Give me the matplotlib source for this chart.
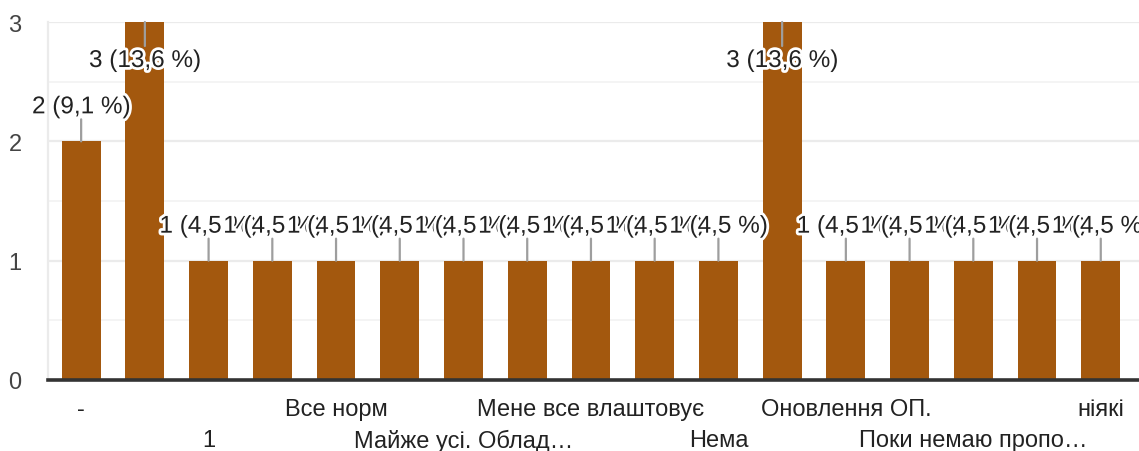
import matplotlib
matplotlib.use("Agg")
import matplotlib.pyplot as plt
import matplotlib.patheffects as pe
from matplotlib.ticker import MultipleLocator

plt.rcParams['font.family'] = ['Liberation Sans', 'DejaVu Sans']

# Categories (only every other label is displayed on the axis in the reference)
categories = ["-", "", "1", "", "Все норм", "", "Майже усі. Облад…", "",
              "Мене все влаштовує", "", "Нема", "", "Оновлення ОП.", "",
              "Поки немаю пропо…", "", "ніякі"]
values = [2, 3, 1, 1, 1, 1, 1, 1, 1, 1, 1, 3, 1, 1, 1, 1, 1]
yticks = [0, 1, 2, 3]

BAR_COLOR = "#A3580E"
W, H, DPI = 1139, 452, 100

fig = plt.figure(figsize=(W / DPI, H / DPI), dpi=DPI)
ax = fig.add_axes([48 / W, 71 / H, 1 - 48 / W, (381 - 23) / H])

x = list(range(len(values)))
ax.bar(x, values, width=0.61, color=BAR_COLOR, zorder=2)

ax.set_xlim(-0.52, len(values) - 1 + 0.6)
ax.set_ylim(0, max(yticks))
ax.set_yticks(yticks)
ax.yaxis.set_minor_locator(MultipleLocator(0.5))
ax.set_yticklabels([str(t) for t in yticks], fontsize=17, color="#444444")
ax.tick_params(axis='y', which='both', length=0, pad=19)
ax.set_xticks([])
ax.yaxis.grid(True, which='major', color="#ebebeb", lw=1.6, zorder=0)
ax.yaxis.grid(True, which='minor', color="#f4f4f4", lw=1.4, zorder=0)
ax.set_axisbelow(True)
for s in ["top", "right"]:
    ax.spines[s].set_visible(False)
ax.spines["left"].set_color("#ebebeb")
ax.spines["left"].set_linewidth(1.6)
ax.spines["bottom"].set_color("#333333")
ax.spines["bottom"].set_linewidth(2.6)
ax.spines["bottom"].set_zorder(5)

total = sum(values)
ymax = max(yticks)
stroke = [pe.withStroke(linewidth=4, foreground="white")]
for i, v in enumerate(values):
    label = f"{v} ({v / total * 100:.1f} %)".replace(".", ",")
    if v >= ymax:
        line_off, text_off = -24, -39
    else:
        line_off, text_off = 22, 34
    ax.annotate("", xy=(i, v), xytext=(0, line_off), textcoords="offset pixels",
                arrowprops=dict(arrowstyle="-", color="#9e9e9e", lw=1.6,
                                shrinkA=0, shrinkB=0),
                annotation_clip=False, zorder=3 + 2 * i)
    ax.annotate(label, xy=(i, v), xytext=(0, text_off), textcoords="offset pixels",
                ha="center", va="center", fontsize=17.5, color="#222222",
                path_effects=stroke, annotation_clip=False, zorder=4 + 2 * i)

# staggered category labels (alternating rows among displayed labels)
row = 0
for i, c in enumerate(categories):
    if not c:
        continue
    off = -29 if row == 0 else -60
    ax.annotate(c, xy=(i, 0), xycoords=("data", "axes fraction"),
                xytext=(0, off), textcoords="offset pixels",
                ha="center", va="center", fontsize=17, color="#222222",
                annotation_clip=False)
    row = 1 - row

fig.savefig("out.png", dpi=DPI)
